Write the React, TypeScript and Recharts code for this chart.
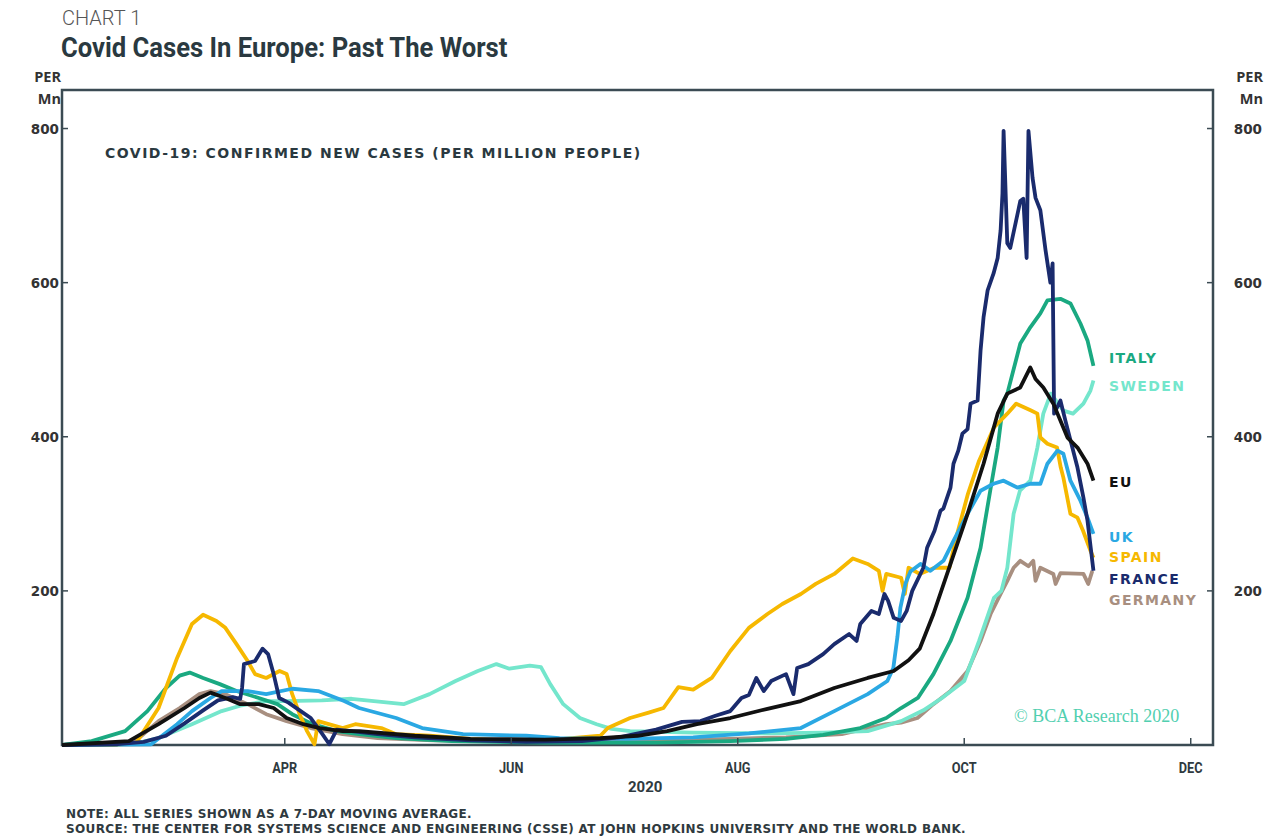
import { LineChart, Line, XAxis, YAxis, ReferenceArea } from "recharts";

// x = days since 1 Feb 2020, y = new cases per million (7-day avg)
const monthTicks = [60, 121, 182, 243, 304];
const monthLabels = ["APR", "JUN", "AUG", "OCT", "DEC"];
const valueTicks = [200, 400, 600, 800];

const ITALY: [number, number][] = [
  [0, 0], [8, 5], [17, 18], [23, 44], [28, 74], [31.7, 90], [34.4, 94], [38, 87], [42.5, 79],
  [47, 70], [53, 61], [58, 53], [62, 40], [67.5, 27], [74, 18], [80, 14], [90, 9], [105, 5],
  [130, 3], [160, 3], [180, 5], [195, 8], [205, 13], [215, 22], [222, 35], [226, 48], [230.5, 61],
  [234.7, 92], [239.3, 135], [243.9, 191], [247.4, 256], [250, 330], [252, 386], [253.6, 447],
  [254.6, 456], [258.1, 521], [260.8, 542], [263.5, 560], [265.4, 577], [268.9, 579],
  [271.6, 573], [274.3, 547], [276.2, 525], [277.8, 492],
];

const SWEDEN: [number, number][] = [
  [0, 0], [20, 2], [26, 9], [35, 27], [43, 44], [48, 51], [55, 57], [60, 57], [70, 58], [78, 60],
  [92, 53], [99, 66], [106, 83], [112, 96], [117, 105], [120.5, 99], [126, 103], [129, 101],
  [131.5, 79], [135, 53], [139.5, 35], [144, 27], [148, 21], [153, 18], [170, 16], [190, 15],
  [205, 16], [217, 18], [226, 31], [232, 45], [237, 61], [243, 83], [247, 135], [251, 191],
  [253, 200], [254.6, 230], [256.3, 300], [258, 330], [260.8, 343], [262.7, 386], [264.3, 430],
  [266.3, 456], [269.7, 434], [272.3, 430], [275.1, 443], [277, 460], [277.8, 473],
];

const EU: [number, number][] = [
  [0, 0], [18, 5], [26, 27], [33, 48], [37, 61], [40, 68], [44, 61], [48, 53], [53, 53], [57, 48],
  [60.5, 35], [65, 27], [69.4, 22], [75.6, 18], [80, 18], [95, 12], [110, 8], [130, 7], [145, 9],
  [155, 12], [163, 18], [171, 27], [180, 35], [190, 47], [199, 57], [208, 74], [217, 87],
  [224, 96], [228, 110], [231, 125], [234.7, 170], [239.3, 235], [243.9, 300], [248.2, 365],
  [252, 430], [254.6, 456], [258.1, 464], [260.8, 490], [262.2, 475], [264.3, 464], [267, 443],
  [270.8, 399], [273.5, 386], [276.2, 365], [277.8, 343],
];

const UK: [number, number][] = [
  [0, 0], [24, 1], [31, 27], [35, 44], [40, 61], [43, 70], [50, 70], [55, 66], [62, 73], [69, 70],
  [76, 57], [80, 48], [90, 35], [97, 22], [108, 14], [125, 12], [134, 9], [152, 8], [170, 10],
  [185, 15], [199, 22], [208, 44], [217, 66], [222.3, 83], [223.9, 100], [225, 140], [225.8, 178],
  [227.2, 210], [228.5, 225], [231.2, 235], [233.9, 226], [237.4, 239], [240.1, 265],
  [243.9, 300], [247.4, 330], [250.9, 339], [253.6, 343], [257.3, 334], [260.8, 339],
  [263.5, 339], [265.4, 365], [268.1, 382], [269.7, 378], [271.6, 343], [274.3, 317],
  [276.2, 295], [277.8, 274],
];

const SPAIN: [number, number][] = [
  [0, 0], [14, 0], [20, 3], [26, 48], [31, 113], [35, 157], [38, 169], [41.6, 161], [44, 152],
  [47, 131], [50, 109], [52, 92], [55, 87], [58.6, 96], [60.5, 92], [62, 66], [64, 40], [66, 18],
  [68, 1], [69, 31], [75.6, 22], [79, 27], [86, 22], [90, 14], [99, 12], [110, 8], [120, 6],
  [135, 8], [145, 12], [147, 22], [153, 35], [158, 42], [162, 48], [166, 75], [170, 72],
  [175, 87], [180, 122], [185, 152], [190, 170], [194, 183], [199, 196], [203, 209], [208, 222],
  [213, 242], [217, 235], [220, 226], [221, 200], [222, 222], [226, 217], [227, 196], [228, 230],
  [231, 222], [235, 230], [239, 230], [240.6, 265], [244, 326], [247, 369], [251, 412],
  [254.6, 430], [257, 443], [261, 434], [262.7, 430], [263.5, 399], [265.4, 391], [268, 386],
  [269, 360], [269.7, 347], [271.6, 300], [273.5, 295], [275, 278], [277, 252], [277.8, 243],
];

const FRANCE: [number, number][] = [
  [0, 0], [15, 1], [22, 4], [28, 12], [33, 28], [38, 45], [42, 58], [46, 62], [48, 60], [48.5, 74],
  [49, 105], [52, 109], [54, 125], [55.5, 118], [57, 92], [58.5, 61], [61, 55], [64, 45], [67, 35],
  [70, 15], [72, 1], [74, 20], [78, 18], [85, 14], [95, 10], [110, 6], [125, 4], [140, 5],
  [150, 10], [160, 20], [167, 30], [172, 31], [176, 38], [180, 44], [183, 61], [185, 65],
  [187, 87], [189, 70], [191, 83], [195, 92], [197, 66], [198, 100], [201, 105], [205, 118],
  [208, 131], [212, 144], [214, 135], [215, 157], [218, 174], [220, 170], [221.5, 196],
  [222.5, 187], [224, 165], [226, 161], [227.5, 174], [229, 200], [232, 230], [233, 256],
  [235, 278], [236.6, 304], [237.4, 307], [239.3, 334], [240.1, 365], [241.4, 382],
  [242.5, 404], [243.9, 410], [244.7, 443], [246.6, 447], [247.4, 512], [248.2, 555],
  [249.3, 590], [250.9, 612], [252, 632], [252.8, 668], [253.3, 716], [253.6, 797],
  [254.6, 651], [255.4, 645], [258.1, 706], [258.9, 709], [259.8, 632], [260.3, 797],
  [261.4, 736], [262.2, 710], [263.5, 694], [264.9, 642], [266.2, 600], [266.8, 625],
  [267.2, 430], [268.9, 447], [270.3, 420], [273.5, 360], [275.1, 321], [276.2, 291],
  [277.8, 226],
];

const GERMANY: [number, number][] = [
  [0, 0], [19, 2], [26, 31], [31.7, 48], [37, 66], [40, 70], [44, 66], [50, 53], [55, 40],
  [60.5, 31], [67, 22], [75.6, 14], [85, 9], [100, 6], [130, 5], [160, 6], [180, 8], [195, 10],
  [210, 14], [217, 22], [222, 27], [226, 29], [230.4, 35], [234.7, 53], [239.3, 70], [243.9, 96],
  [247.4, 135], [250.1, 170], [252.8, 196], [254.6, 213], [256.3, 230], [258.1, 239],
  [260.3, 232], [261.6, 239], [262.2, 213], [263.5, 230], [267, 222], [267.6, 209],
  [268.9, 223], [275.1, 222], [276.4, 209], [277.5, 226],
];

// EU is plotted against the right-hand scale (identical range) so both axes render
const series = [
  { name: "GERMANY", points: GERMANY, color: "#a88f80", labelY: 600, axis: "left" },
  { name: "SWEDEN", points: SWEDEN, color: "#74e6cc", labelY: 386, axis: "left" },
  { name: "ITALY", points: ITALY, color: "#1aa981", labelY: 358, axis: "left" },
  { name: "SPAIN", points: SPAIN, color: "#f6b800", labelY: 557, axis: "left" },
  { name: "UK", points: UK, color: "#2aa8e3", labelY: 537, axis: "left" },
  { name: "FRANCE", points: FRANCE, color: "#1a2b6d", labelY: 579, axis: "left" },
  { name: "EU", points: EU, color: "#111111", labelY: 482, axis: "right" },
];

const FRAME = "#3b4b53";
const BOLD = "'Open Sans', sans-serif";
const WIDE = "'DejaVu Sans', sans-serif";

const LeftTick = ({ x, y, payload }: any) => (
  <g>
    <line x1={x + 4} x2={x + 10} y1={y} y2={y} stroke={FRAME} strokeWidth={1.5} />
    <text x={x + 1} y={y} dy={5} textAnchor="end" fontFamily={WIDE} fontWeight={700} fontSize={13.5} fill="#333">
      {payload.value}
    </text>
  </g>
);

const RightTick = ({ x, y, payload }: any) => (
  <g>
    <line x1={x - 4} x2={x - 10} y1={y} y2={y} stroke={FRAME} strokeWidth={1.5} />
    <text x={x + 45} y={y} dy={5} textAnchor="end" fontFamily={WIDE} fontWeight={700} fontSize={13.5} fill="#333">
      {payload.value}
    </text>
  </g>
);

const BottomTick = ({ x, y, index }: any) => (
  <g>
    <line x1={x} x2={x} y1={y - 4} y2={y - 11} stroke={FRAME} strokeWidth={1.5} />
    <text
      x={x}
      y={y + 24}
      textAnchor="middle"
      fontFamily="Roboto, sans-serif"
      fontWeight={700}
      fontSize={15}
      fill="#2f3a40"
      transform={`translate(${x} 0) scale(0.85 1) translate(${-x} 0)`}
    >
      {monthLabels[index]}
    </text>
  </g>
);

const abs = (left: number, top: number, extra: any = {}) => ({
  position: "absolute" as const,
  left,
  top,
  whiteSpace: "nowrap" as const,
  ...extra,
});

export default function App() {
  return (
    <div style={{ position: "absolute", left: 0, top: 0, width: 1278, height: 840, background: "#fff" }}>
      <div style={abs(62, 6, { fontFamily: "Roboto, sans-serif", fontWeight: 300, fontSize: 20, color: "#555" })}>
        CHART 1
      </div>
      <div
        style={abs(61, 31, {
          fontFamily: "Roboto, sans-serif",
          fontWeight: 700,
          fontSize: 28,
          color: "#2a3940",
          transform: "scaleX(0.915)",
          transformOrigin: "left top",
        })}
      >
        Covid Cases In Europe: Past The Worst
      </div>
      <div style={abs(10, 66, { width: 51, textAlign: "right", fontFamily: BOLD, fontWeight: 700, fontSize: 14.5, lineHeight: "22px", color: "#333" })}>
        PER<br />Mn
      </div>
      <div style={abs(1212, 66, { width: 51, textAlign: "right", fontFamily: BOLD, fontWeight: 700, fontSize: 14.5, lineHeight: "22px", color: "#333" })}>
        PER<br />Mn
      </div>

      <LineChart width={1278} height={840} margin={{ top: 90, right: 15, bottom: 65, left: 22 }}>
        <XAxis
          type="number"
          dataKey="d"
          domain={[0, 310]}
          ticks={monthTicks}
          allowDataOverflow
          height={30}
          axisLine={false}
          tickLine={false}
          tickSize={0}
          tickMargin={4}
          tick={<BottomTick />}
        />
        <YAxis
          yAxisId="left"
          orientation="left"
          domain={[0, 850]}
          ticks={valueTicks}
          width={40}
          axisLine={false}
          tickLine={false}
          tickSize={0}
          tickMargin={4}
          tick={<LeftTick />}
        />
        <YAxis
          yAxisId="right"
          orientation="right"
          domain={[0, 850]}
          ticks={valueTicks}
          width={50}
          axisLine={false}
          tickLine={false}
          tickSize={0}
          tickMargin={4}
          tick={<RightTick />}
        />
        {series.map((s) => (
          <Line
            key={s.name}
            yAxisId={s.axis}
            data={s.points.map(([d, v]) => ({ d, v }))}
            dataKey="v"
            type="linear"
            stroke={s.color}
            strokeWidth={3.8}
            strokeLinejoin="round"
            dot={false}
            isAnimationActive={false}
          />
        ))}
        <ReferenceArea
          yAxisId="left"
          x1={0}
          x2={310}
          y1={0}
          y2={850}
          fill="none"
          fillOpacity={0}
          stroke={FRAME}
          strokeWidth={2.5}
          ifOverflow="visible"
        />
      </LineChart>

      <div style={abs(105, 145, { fontFamily: WIDE, fontWeight: 700, fontSize: 14, letterSpacing: 1.5, color: "#2a3940" })}>
        COVID-19: CONFIRMED NEW CASES (PER MILLION PEOPLE)
      </div>
      {series.map((s) => (
        <div
          key={s.name}
          style={abs(1109, s.labelY - 11, { fontFamily: WIDE, fontWeight: 700, fontSize: 14, letterSpacing: 1.4, color: s.color, lineHeight: "22px" })}
        >
          {s.name}
        </div>
      ))}
      <div style={abs(1014, 706, { fontFamily: "'Liberation Serif', serif", fontSize: 18, color: "#52cfb0" })}>
        © BCA Research 2020
      </div>
      <div
        style={abs(628, 778, {
          fontFamily: "Roboto, sans-serif",
          fontWeight: 700,
          fontSize: 15,
          color: "#2f3a40",
        })}
      >
        2020
      </div>
      <div style={abs(66, 807, { fontFamily: WIDE, fontWeight: 700, fontSize: 12, letterSpacing: 0.35, color: "#2f3a40", lineHeight: "15px" })}>
        NOTE: ALL SERIES SHOWN AS A 7-DAY MOVING AVERAGE.
        <br />
        SOURCE: THE CENTER FOR SYSTEMS SCIENCE AND ENGINEERING (CSSE) AT JOHN HOPKINS UNIVERSITY AND THE WORLD BANK.
      </div>
    </div>
  );
}
